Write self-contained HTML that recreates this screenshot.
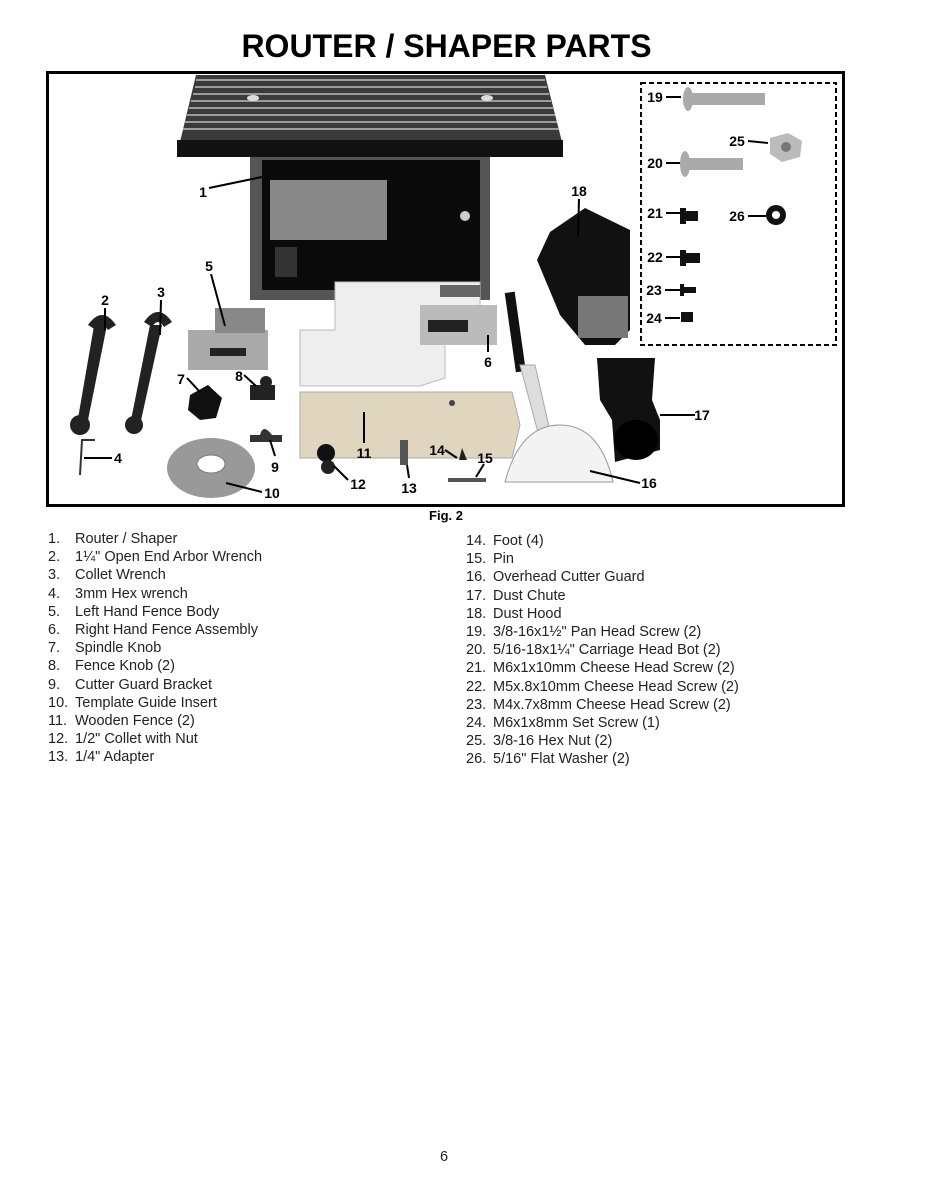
<!DOCTYPE html>
<html><head><meta charset="utf-8"><style>
body{margin:0;background:#fff;width:927px;height:1200px;position:relative;font-family:"Liberation Sans",Arial,sans-serif;overflow:hidden;color:#222}
.t{position:absolute;white-space:nowrap}
h1{position:absolute;left:0;width:893px;text-align:center;top:28px;margin:0;font-size:32px;font-weight:bold;letter-spacing:0;color:#000}
.list{position:absolute;font-size:14.5px;line-height:18.2px;margin:0;padding:0;list-style:none}
.list li span{display:inline-block;width:27px}
</style></head><body>
<h1>ROUTER / SHAPER PARTS</h1>
<svg width="927" height="530" style="position:absolute;left:0;top:0" font-family="Liberation Sans,Arial,sans-serif" font-weight="bold" font-size="14">
<rect x="47.5" y="72.5" width="796" height="433" fill="#fff" stroke="#000" stroke-width="3"/>
<polygon points="196,75 545,75 562,142 180,142" fill="#3a3a3a"/>
<g stroke="#bbb" stroke-width="1.5">
<line x1="196" y1="80" x2="545" y2="80"/><line x1="195" y1="87" x2="547" y2="87"/><line x1="193" y1="94" x2="549" y2="94"/><line x1="191" y1="101" x2="551" y2="101"/><line x1="189" y1="108" x2="553" y2="108"/><line x1="187" y1="115" x2="555" y2="115"/><line x1="185" y1="122" x2="557" y2="122"/><line x1="183" y1="129" x2="559" y2="129"/></g>
<ellipse cx="253" cy="98" rx="6" ry="3" fill="#ddd"/><ellipse cx="487" cy="98" rx="6" ry="3" fill="#ddd"/>
<rect x="177" y="140" width="386" height="17" fill="#111"/>
<rect x="250" y="157" width="240" height="143" fill="#555"/>
<rect x="262" y="160" width="218" height="130" fill="#0a0a0a"/>
<rect x="270" y="180" width="117" height="60" fill="#888"/>
<circle cx="465" cy="216" r="5" fill="#ccc"/>
<rect x="275" y="247" width="22" height="30" fill="#333"/>
<rect x="188" y="330" width="80" height="40" fill="#aaa"/><rect x="215" y="308" width="50" height="25" fill="#888"/><rect x="210" y="348" width="36" height="8" fill="#222"/>
<path d="M95,320 L108,320 L86,430 L76,430Z" fill="#222"/><circle cx="80" cy="425" r="10" fill="#222"/><path d="M88,325 q14,-20 28,0 l-8,5 q-6,-10 -12,0z" fill="#222"/>
<path d="M150,325 L162,325 L140,425 L130,425Z" fill="#222"/><circle cx="134" cy="425" r="9" fill="#222"/><path d="M144,322 q14,-20 28,0 l-8,5 q-6,-10 -12,0z" fill="#222"/>
<path d="M95,440 L82,440 L80,475" fill="none" stroke="#333" stroke-width="2"/>
<path d="M190,395 L208,385 L222,398 L216,418 L200,420 L188,410Z" fill="#111"/>
<rect x="250" y="385" width="25" height="15" fill="#222"/><circle cx="266" cy="382" r="6" fill="#222"/>
<path d="M250,435 L260,435 q3,-12 12,0 L282,435 L282,442 L250,442Z" fill="#333"/>
<ellipse cx="211" cy="468" rx="44" ry="30" fill="#999"/><ellipse cx="211" cy="464" rx="14" ry="9" fill="#fff" stroke="#777"/>
<polygon points="335,282 480,282 480,330 445,330 445,378 420,386 300,386 300,330 335,330" fill="#eee" stroke="#bbb"/>
<rect x="420" y="305" width="77" height="40" fill="#bbb"/><rect x="428" y="320" width="40" height="12" fill="#222"/><rect x="440" y="285" width="40" height="12" fill="#666"/>
<polygon points="300,392 512,392 520,425 512,458 300,458" fill="#e0d6bf" stroke="#aaa"/>
<circle cx="452" cy="403" r="3" fill="#444"/>
<circle cx="326" cy="453" r="9" fill="#111"/><circle cx="328" cy="467" r="7" fill="#222"/>
<rect x="400" y="440" width="8" height="25" fill="#555"/>
<path d="M462,448 l5,12 l-8,0z" fill="#222"/>
<rect x="448" y="478" width="38" height="4" fill="#555"/>
<rect x="510" y="292" width="10" height="80" fill="#111" transform="rotate(-8 515 330)"/>
<polygon points="520,365 535,365 552,440 540,440" fill="#ddd" stroke="#aaa"/>
<path d="M505,482 Q520,425 560,425 Q600,425 613,482 Z" fill="#f3f3f3" stroke="#999"/>
<polygon points="550,232 585,208 630,230 630,330 615,345 585,345 560,315 537,260" fill="#111"/>
<rect x="578" y="296" width="50" height="42" fill="#777"/>
<polygon points="597,358 655,358 652,400 660,420 660,450 615,462 612,420 600,400" fill="#111"/>
<ellipse cx="636" cy="440" rx="22" ry="20" fill="#000"/>
<rect x="641" y="83" width="195" height="262" fill="none" stroke="#000" stroke-width="2" stroke-dasharray="5,3"/>
<ellipse cx="688" cy="99" rx="5" ry="12" fill="#aaa"/><rect x="690" y="93" width="75" height="12" fill="#aaa"/>
<ellipse cx="685" cy="164" rx="5" ry="13" fill="#aaa"/><rect x="688" y="158" width="55" height="12" fill="#aaa"/>
<polygon points="770,138 788,133 802,141 800,157 782,162 770,154" fill="#bbb"/><circle cx="786" cy="147" r="5" fill="#777"/>
<circle cx="776" cy="215" r="10" fill="#111"/><circle cx="776" cy="215" r="4" fill="#fff"/>
<g fill="#111"><rect x="680" y="208" width="6" height="16"/><rect x="684" y="211" width="14" height="10"/>
<rect x="680" y="250" width="6" height="16"/><rect x="684" y="253" width="16" height="10"/>
<rect x="680" y="284" width="4" height="12"/><rect x="683" y="287" width="13" height="6"/>
<rect x="681" y="312" width="12" height="10"/></g>
<g stroke="#000" stroke-width="2">
<line x1="209" y1="188" x2="262" y2="177"/><line x1="211" y1="274" x2="225" y2="326"/>
<line x1="105" y1="308" x2="105" y2="330"/><line x1="161" y1="300" x2="160" y2="335"/>
<line x1="488" y1="352" x2="488" y2="335"/><line x1="187" y1="378" x2="200" y2="392"/>
<line x1="244" y1="375" x2="256" y2="386"/><line x1="695" y1="415" x2="660" y2="415"/>
<line x1="112" y1="458" x2="84" y2="458"/><line x1="275" y1="456" x2="270" y2="440"/>
<line x1="364" y1="443" x2="364" y2="412"/><line x1="445" y1="450" x2="457" y2="458"/>
<line x1="484" y1="464" x2="476" y2="477"/><line x1="348" y1="480" x2="334" y2="466"/>
<line x1="409" y1="478" x2="407" y2="465"/><line x1="262" y1="492" x2="226" y2="483"/>
<line x1="640" y1="483" x2="590" y2="471"/><line x1="579" y1="199" x2="578" y2="236"/>
<line x1="666" y1="97" x2="681" y2="97"/><line x1="748" y1="141" x2="768" y2="143"/>
<line x1="666" y1="163" x2="680" y2="163"/><line x1="666" y1="213" x2="680" y2="213"/>
<line x1="748" y1="216" x2="766" y2="216"/><line x1="666" y1="257" x2="680" y2="257"/>
<line x1="665" y1="290" x2="680" y2="290"/><line x1="665" y1="318" x2="680" y2="318"/>
</g>
<g text-anchor="middle">
<text x="203" y="197">1</text><text x="579" y="196">18</text><text x="209" y="271">5</text>
<text x="105" y="305">2</text><text x="161" y="297">3</text><text x="488" y="367">6</text>
<text x="181" y="384">7</text><text x="239" y="381">8</text><text x="702" y="420">17</text>
<text x="118" y="463">4</text><text x="275" y="472">9</text><text x="364" y="458">11</text>
<text x="437" y="455">14</text><text x="485" y="463">15</text><text x="358" y="489">12</text>
<text x="409" y="493">13</text><text x="272" y="498">10</text><text x="649" y="488">16</text>
<text x="655" y="102">19</text><text x="737" y="146">25</text><text x="655" y="168">20</text>
<text x="655" y="218">21</text><text x="737" y="221">26</text><text x="655" y="262">22</text>
<text x="654" y="295">23</text><text x="654" y="323">24</text>
<text x="446" y="520" font-size="13">Fig. 2</text>
</g>
</svg>
<ul class="list" style="left:48px;top:530px">
<li><span>1.</span>Router / Shaper</li><li><span>2.</span>1¼" Open End Arbor Wrench</li><li><span>3.</span>Collet Wrench</li><li><span>4.</span>3mm Hex wrench</li><li><span>5.</span>Left Hand Fence Body</li><li><span>6.</span>Right Hand Fence Assembly</li><li><span>7.</span>Spindle Knob</li><li><span>8.</span>Fence Knob (2)</li><li><span>9.</span>Cutter Guard Bracket</li><li><span>10.</span>Template Guide Insert</li><li><span>11.</span>Wooden Fence (2)</li><li><span>12.</span>1/2" Collet with Nut</li><li><span>13.</span>1/4" Adapter</li>
</ul>
<ul class="list" style="left:466px;top:532px">
<li><span>14.</span>Foot (4)</li><li><span>15.</span>Pin</li><li><span>16.</span>Overhead Cutter Guard</li><li><span>17.</span>Dust Chute</li><li><span>18.</span>Dust Hood</li><li><span>19.</span>3/8-16x1½" Pan Head Screw (2)</li><li><span>20.</span>5/16-18x1¼" Carriage Head Bot (2)</li><li><span>21.</span>M6x1x10mm Cheese Head Screw (2)</li><li><span>22.</span>M5x.8x10mm Cheese Head Screw (2)</li><li><span>23.</span>M4x.7x8mm Cheese Head Screw (2)</li><li><span>24.</span>M6x1x8mm Set Screw (1)</li><li><span>25.</span>3/8-16 Hex Nut (2)</li><li><span>26.</span>5/16" Flat Washer (2)</li>
</ul>
<div class="t" style="left:440px;top:1149px;font-size:14.5px">6</div>
</body></html>
